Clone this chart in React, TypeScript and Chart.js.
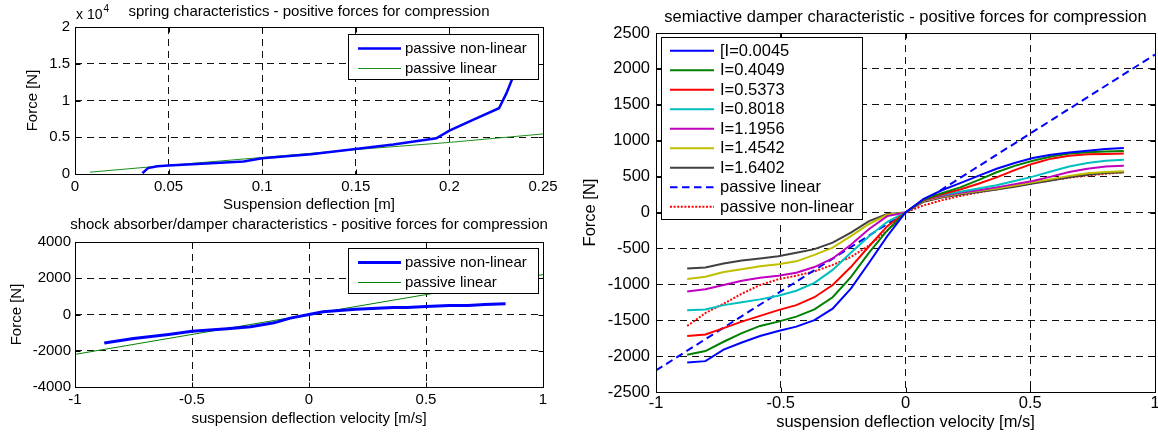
import React, { useEffect, useRef } from 'react';
import Chart from 'chart.js/auto';

const FONT = '"Liberation Sans", Arial, Helvetica, sans-serif';

// ---------- spring characteristics ----------
const springXTicks = [0, 0.05, 0.1, 0.15, 0.2, 0.25];
const springYTicks = [0, 5000, 10000, 15000, 20000];
const springDeflNonlin = [0.036, 0.039, 0.044, 0.05, 0.075, 0.09, 0.1, 0.126, 0.151, 0.17, 0.193, 0.2, 0.212, 0.2265, 0.2305, 0.236];
const springForceNonlin = [100, 800, 1050, 1150, 1500, 1700, 2150, 2700, 3450, 4000, 4850, 5900, 7300, 8950, 11000, 14500];
const springDeflLin = [0.008, 0.05, 0.1, 0.15, 0.2, 0.25];
const springForceLin = [250, 1180, 2250, 3330, 4300, 5450];

// ---------- damper characteristics ----------
const damperXTicks = [-1, -0.5, 0, 0.5, 1];
const damperYTicks = [-4000, -2000, 0, 2000, 4000];
const damperVelNonlin = [-0.875, -0.75, -0.6, -0.5, -0.35, -0.25, -0.15, -0.08, 0, 0.06, 0.2, 0.36, 0.42, 0.5, 0.6, 0.68, 0.75, 0.84];
const damperForceNonlin = [-1570, -1330, -1100, -920, -790, -680, -460, -200, 0, 150, 290, 380, 380, 440, 490, 490, 550, 590];
const damperVelLin = [-1, 1];
const damperForceLin = [-2200, 2200];

// ---------- semiactive damper ----------
const semiXTicks = [-1, -0.5, 0, 0.5, 1];
const semiYTicks = [-2500, -2000, -1500, -1000, -500, 0, 500, 1000, 1500, 2000, 2500];
const semiVel = [-0.875, -0.802, -0.729, -0.656, -0.583, -0.51, -0.4375, -0.365, -0.292, -0.219, -0.146, -0.073, 0, 0.073, 0.146, 0.219, 0.292, 0.365, 0.4375, 0.51, 0.583, 0.656, 0.729, 0.802, 0.875];
const semiI0045 = [-2090, -2070, -1910, -1810, -1720, -1650, -1590, -1500, -1340, -1060, -700, -330, 0, 190, 310, 410, 510, 610, 690, 760, 805, 835, 860, 885, 900];
const semiI4049 = [-1980, -1930, -1800, -1680, -1580, -1520, -1450, -1350, -1180, -900, -560, -250, 0, 180, 270, 350, 450, 560, 650, 720, 780, 820, 840, 850, 855];
const semiI5373 = [-1720, -1700, -1610, -1520, -1440, -1360, -1290, -1180, -1010, -760, -470, -190, 0, 175, 255, 320, 400, 490, 590, 680, 750, 790, 810, 815, 820];
const semiI8018 = [-1360, -1350, -1290, -1250, -1210, -1160, -1090, -980, -800, -560, -330, -130, 0, 175, 245, 290, 335, 380, 440, 500, 570, 640, 690, 720, 735];
const semiI11956 = [-1100, -1070, -1010, -950, -910, -880, -840, -760, -640, -450, -230, -50, 0, 170, 230, 275, 310, 350, 395, 440, 500, 565, 610, 640, 650];
const semiI14542 = [-925, -895, -830, -790, -750, -720, -680, -590, -490, -330, -160, -30, 0, 165, 220, 265, 300, 335, 375, 420, 465, 510, 545, 565, 575];
const semiI16402 = [-780, -765, -710, -670, -640, -610, -560, -510, -420, -280, -120, -20, 0, 150, 210, 250, 285, 320, 360, 405, 445, 490, 525, 550, 560];
const semiPassLinVel = [-1, 1];
const semiPassLinForce = [-2200, 2200];
const semiPassNonlin = [-1580, -1400, -1270, -1130, -1010, -930, -880, -820, -730, -620, -460, -250, 0, 100, 170, 230, 280, 325, 370, 410, 450, 485, 515, 540, 560];

const pts = (xs: number[], ys: number[]) => xs.map((x, i) => ({ x, y: ys[i] }));
const fmt = (v: number) => String(+Number(v).toFixed(6));

const matlabPlugin = {
  id: 'matlab',
  afterDatasetsDraw(chart: any, _args: any, o: any) {
    const { ctx, chartArea: a } = chart;
    const L = Math.round(a.left) + 0.5;
    const T = Math.round(a.top) + 0.5;
    const R = Math.round(a.right) + 0.5;
    const B = Math.round(a.bottom) + 0.5;
    ctx.save();
    ctx.setLineDash([]);
    ctx.strokeStyle = '#000';
    ctx.lineWidth = 1;
    // inward tick marks on all four sides
    const tl = o.tickLen;
    ctx.beginPath();
    const xs = chart.scales.x;
    const ys = chart.scales.y;
    xs.ticks.forEach((t: any) => {
      const px = Math.round(xs.getPixelForValue(t.value)) + 0.5;
      ctx.moveTo(px, B); ctx.lineTo(px, B - tl);
      ctx.moveTo(px, T); ctx.lineTo(px, T + tl);
    });
    ys.ticks.forEach((t: any) => {
      const py = Math.round(ys.getPixelForValue(t.value)) + 0.5;
      ctx.moveTo(L, py); ctx.lineTo(L + tl, py);
      ctx.moveTo(R, py); ctx.lineTo(R - tl, py);
    });
    ctx.stroke();
    ctx.strokeRect(L, T, R - L, B - T);

    // legend box
    const lg = o.legend;
    if (lg) {
      ctx.fillStyle = '#fff';
      ctx.fillRect(lg.x, lg.y, lg.w, lg.h);
      ctx.strokeStyle = '#000';
      ctx.lineWidth = 1;
      ctx.strokeRect(lg.x + 0.5, lg.y + 0.5, lg.w, lg.h);
      ctx.font = `${o.fontSize}px ${FONT}`;
      ctx.textAlign = 'left';
      ctx.textBaseline = 'middle';
      chart.data.datasets.forEach((ds: any, i: number) => {
        const y = lg.row0 + i * lg.step;
        ctx.save();
        ctx.strokeStyle = ds.borderColor;
        ctx.lineWidth = ds.borderWidth;
        ctx.setLineDash(ds.borderDash || []);
        ctx.beginPath();
        ctx.moveTo(lg.s0, y);
        ctx.lineTo(lg.s1, y);
        ctx.stroke();
        ctx.restore();
        ctx.fillStyle = '#000';
        ctx.fillText(ds.label, lg.tx, y + 0.5);
      });
    }

    // title
    ctx.fillStyle = '#000';
    ctx.font = `${o.fontSize}px ${FONT}`;
    ctx.textAlign = 'center';
    ctx.textBaseline = 'middle';
    ctx.fillText(o.title, (a.left + a.right) / 2, o.titleY);

    if (o.exponent) {
      ctx.textAlign = 'left';
      ctx.font = `14px ${FONT}`;
      ctx.fillText('x 10', o.exponent.x, o.exponent.y);
      const w = ctx.measureText('x 10').width;
      ctx.font = `10px ${FONT}`;
      ctx.fillText('4', o.exponent.x + w + 1, o.exponent.y - 6);
    }
    ctx.restore();
  },
};

function axis(opts: {
  isX: boolean; min: number; max: number; ticks: number[]; fontSize: number; pad: number;
  fmt: (v: number) => string; title: string; titlePad: number; size: number;
}) {
  return {
    type: 'linear',
    position: opts.isX ? 'bottom' : 'left',
    min: opts.min,
    max: opts.max,
    afterBuildTicks: (s: any) => { s.ticks = opts.ticks.map((v) => ({ value: v })); },
    afterFit: (s: any) => {
      if (opts.isX) { s.height = opts.size; s.paddingLeft = 0; s.paddingRight = 0; }
      else { s.width = opts.size; s.paddingTop = 0; s.paddingBottom = 0; }
    },
    ticks: {
      color: '#000',
      font: { family: FONT, size: opts.fontSize },
      padding: opts.pad,
      autoSkip: false,
      maxRotation: 0,
      callback: (v: any) => opts.fmt(Number(v)),
    },
    grid: { color: '#111', lineWidth: 1, drawTicks: false },
    border: { display: false, dash: [7, 5] },
    title: {
      display: true,
      text: opts.title,
      color: '#000',
      font: { family: FONT, size: opts.fontSize },
      padding: opts.isX ? { top: 0, bottom: opts.titlePad } : { top: opts.titlePad, bottom: 0 },
    },
  };
}

function line(label: string, data: any[], color: string, width: number, dash?: number[]) {
  return {
    label,
    data,
    borderColor: color,
    backgroundColor: color,
    borderWidth: width,
    borderDash: dash || [],
    pointRadius: 0,
    fill: false,
    tension: 0,
  };
}

function baseOptions(p: any) {
  return {
    responsive: false,
    animation: false,
    events: [],
    layout: { padding: p.padding },
    scales: {
      x: axis(p.x),
      y: axis(p.y),
    },
    plugins: {
      legend: { display: false },
      tooltip: { enabled: false },
      matlab: p.matlab,
    },
  };
}

function springConfig() {
  return {
    type: 'line',
    data: {
      datasets: [
        line('passive non-linear', pts(springDeflNonlin, springForceNonlin), '#0000ff', 2.5),
        line('passive linear', pts(springDeflLin, springForceLin), '#1a8f1a', 1),
      ],
    },
    options: baseOptions({
      padding: { left: 0, top: 27, right: 17, bottom: 0 },
      x: { isX: true, min: 0, max: 0.25, ticks: springXTicks, fontSize: 15, pad: 4, fmt, title: 'Suspension deflection [m]', titlePad: 0, size: 40 },
      y: { isX: false, min: 0, max: 20000, ticks: springYTicks, fontSize: 15, pad: 5, fmt: (v: number) => fmt(v / 10000), title: 'Force [N]', titlePad: 24, size: 75 },
      matlab: {
        tickLen: 5, fontSize: 15, title: 'spring characteristics - positive forces for compression', titleY: 12,
        exponent: { x: 76, y: 15 },
        legend: { x: 348, y: 34, w: 190, h: 45, row0: 48.5, step: 20, s0: 358, s1: 401, tx: 405 },
      },
    }),
    plugins: [matlabPlugin],
  };
}

function damperConfig() {
  return {
    type: 'line',
    data: {
      datasets: [
        line('passive non-linear', pts(damperVelNonlin, damperForceNonlin), '#0000ff', 3),
        line('passive linear', pts(damperVelLin, damperForceLin), '#008000', 1),
      ],
    },
    options: baseOptions({
      padding: { left: 0, top: 28, right: 17, bottom: 0 },
      x: { isX: true, min: -1, max: 1, ticks: damperXTicks, fontSize: 15, pad: 4, fmt, title: 'suspension deflection velocity [m/s]', titlePad: 8, size: 49 },
      y: { isX: false, min: -4000, max: 4000, ticks: damperYTicks, fontSize: 15, pad: 4, fmt, title: 'Force [N]', titlePad: 7.6, size: 75 },
      matlab: {
        tickLen: 5, fontSize: 15, title: 'shock absorber/damper characteristics - positive forces for compression', titleY: 11,
        legend: { x: 348, y: 34, w: 190, h: 45, row0: 48.5, step: 20, s0: 358, s1: 401, tx: 405 },
      },
    }),
    plugins: [matlabPlugin],
  };
}

function semiConfig() {
  return {
    type: 'line',
    data: {
      datasets: [
        line('[I=0.0045', pts(semiVel, semiI0045), '#0000ff', 2),
        line('I=0.4049', pts(semiVel, semiI4049), '#008000', 2),
        line('I=0.5373', pts(semiVel, semiI5373), '#ff0000', 2),
        line('I=0.8018', pts(semiVel, semiI8018), '#00bfbf', 2),
        line('I=1.1956', pts(semiVel, semiI11956), '#bf00bf', 2),
        line('I=1.4542', pts(semiVel, semiI14542), '#bfbf00', 2),
        line('I=1.6402', pts(semiVel, semiI16402), '#404040', 2),
        line('passive linear', pts(semiPassLinVel, semiPassLinForce), '#0000ff', 2, [7.5, 4.5]),
        line('passive non-linear', pts(semiVel, semiPassNonlin), '#ff0000', 2, [2, 1.6]),
      ],
    },
    options: baseOptions({
      padding: { left: 0, top: 33, right: 3, bottom: 0 },
      x: { isX: true, min: -1, max: 1, ticks: semiXTicks, fontSize: 16.5, pad: 2, fmt, title: 'suspension deflection velocity [m/s]', titlePad: 3.4, size: 44 },
      y: { isX: false, min: -2500, max: 2500, ticks: semiYTicks, fontSize: 16.5, pad: 6, fmt, title: 'Force [N]', titlePad: 20.6, size: 96 },
      matlab: {
        tickLen: 5, fontSize: 16.5, title: 'semiactive damper characteristic - positive forces for compression', titleY: 17,
        legend: { x: 101, y: 37, w: 201, h: 182, row0: 50.7, step: 19.5, s0: 110, s1: 154, tx: 160 },
      },
    }),
    plugins: [matlabPlugin],
  };
}

function Plot(props: { left: number; top: number; width: number; height: number; make: () => any }) {
  const ref = useRef<HTMLCanvasElement>(null);
  useEffect(() => {
    const chart = new Chart(ref.current as HTMLCanvasElement, props.make());
    return () => chart.destroy();
  }, []);
  return (
    <canvas
      ref={ref}
      width={props.width}
      height={props.height}
      style={{ position: 'absolute', left: props.left, top: props.top, width: props.width, height: props.height }}
    />
  );
}

export default function App() {
  return (
    <div style={{ position: 'absolute', left: 0, top: 0, width: 1158, height: 436, background: '#fff', overflow: 'hidden' }}>
      <Plot left={0} top={0} width={560} height={214} make={springConfig} />
      <Plot left={0} top={214} width={560} height={222} make={damperConfig} />
      <Plot left={560} top={0} width={598} height={436} make={semiConfig} />
    </div>
  );
}
